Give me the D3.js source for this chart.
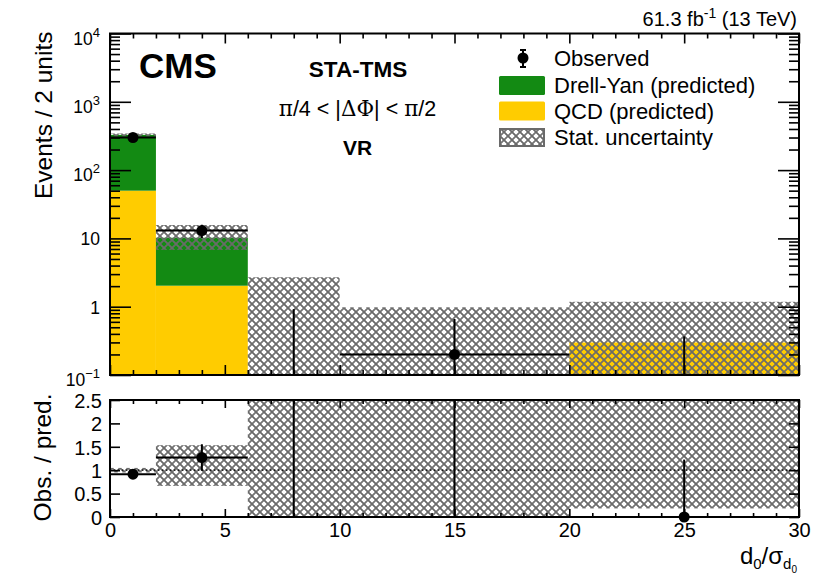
<!DOCTYPE html>
<html>
<head>
<meta charset="utf-8">
<script src="https://cdn.jsdelivr.net/npm/d3@7"></script>
<style>
  html, body { margin: 0; padding: 0; background: #fff; }
  svg { display: block; font-family: "Liberation Sans", Arial, Helvetica, sans-serif; }
</style>
</head>
<body>
<svg id="chart" width="820" height="576"></svg>
<script>
// Binning in d0/sigma(d0) and per-bin contents (events / 2 units)
const binEdges   = [0, 2, 6, 10, 20, 30];
const qcdPred    = [50, 2.03, 0, 0, 0.3];
const dyPred     = [278, 8.2, 0, 0, 0];
const statLow    = [312, 6.8, 0.05, 0.05, 0.055];
const statHigh   = [344, 15.7, 2.7, 0.98, 1.18];
const observed   = [300, 13, 0, 0.2, 0];
const obsErrDown = [17, 2.9, 0, 0.165, 0];
const obsErrUp   = [17, 2.9, 0.92, 0.46, 0.368];

// Axis ticks and labels
const logMajorTicks  = [0.1, 1, 10, 100, 1000, 10000];
const logTickLabels  = [["10", "\u22121"], ["1", ""], ["10", ""], ["10", "2"], ["10", "3"], ["10", "4"]];
const xMajorTicks    = [0, 5, 10, 15, 20, 25, 30];
const ratioTicks     = [0, 0.5, 1, 1.5, 2, 2.5];

const legendLabels = ["Observed", "Drell-Yan (predicted)", "QCD (predicted)", "Stat. uncertainty"];

const GREEN = "#138a13", YELLOW = "#ffcc00", HATCH = "#6a6a6a";
const FONT = "Liberation Sans, Arial, sans-serif";

const bins = binEdges.slice(0, -1).map((lo, i) => ({
  lo, hi: binEdges[i + 1], mid: (lo + binEdges[i + 1]) / 2,
  qcd: qcdPred[i], dy: dyPred[i], pred: qcdPred[i] + dyPred[i],
  sLo: statLow[i], sHi: statHigh[i],
  obs: observed[i], eDn: obsErrDown[i], eUp: obsErrUp[i]
}));

const svg = d3.select("#chart");
const L = 110, R = 799;
const mainTop = 33.5, mainBot = 375;
const ratTop = 400, ratBot = 517;

const x  = d3.scaleLinear().domain([0, 30]).range([L, R]);
const y  = d3.scaleLog().domain([0.1, 1e4]).range([mainBot, mainTop]);
const yr = d3.scaleLinear().domain([0, 2.5]).range([ratBot, ratTop]);

// cross-hatch fill for the statistical uncertainty band
const defs = svg.append("defs");
const T = 8 / Math.SQRT2;
const pat = defs.append("pattern").attr("id", "hatch")
  .attr("patternUnits", "userSpaceOnUse").attr("width", T).attr("height", T)
  .attr("patternTransform", "rotate(45)");
pat.append("path").attr("d", `M0,${T / 2}H${T}M${T / 2},0V${T}`)
  .attr("stroke", HATCH).attr("stroke-width", 1.75).attr("fill", "none");
defs.append("clipPath").attr("id", "clipMain").append("rect")
  .attr("x", L).attr("y", mainTop).attr("width", R - L).attr("height", mainBot - mainTop);
defs.append("clipPath").attr("id", "clipRatio").append("rect")
  .attr("x", L).attr("y", ratTop).attr("width", R - L).attr("height", ratBot - ratTop);

// ---------- main panel ----------
const gm = svg.append("g").attr("clip-path", "url(#clipMain)");
const yMin = 0.1;

gm.selectAll("rect.qcd").data(bins.filter(b => b.qcd > 0)).join("rect")
  .attr("x", b => x(b.lo)).attr("width", b => x(b.hi) - x(b.lo))
  .attr("y", b => y(b.qcd)).attr("height", b => y(yMin) - y(b.qcd))
  .attr("fill", YELLOW);

gm.selectAll("rect.dy").data(bins.filter(b => b.dy > 0)).join("rect")
  .attr("x", b => x(b.lo)).attr("width", b => x(b.hi) - x(b.lo))
  .attr("y", b => y(b.pred)).attr("height", b => y(Math.max(b.qcd, yMin)) - y(b.pred))
  .attr("fill", GREEN);

gm.selectAll("rect.stat").data(bins).join("rect")
  .attr("x", b => x(b.lo)).attr("width", b => x(b.hi) - x(b.lo))
  .attr("y", b => y(b.sHi)).attr("height", b => y(Math.max(b.sLo, 0.05)) - y(b.sHi))
  .attr("fill", "url(#hatch)");

// observed: error bars and markers
gm.selectAll("line.xerr").data(bins.filter(b => b.obs > 0)).join("line")
  .attr("x1", b => x(b.lo)).attr("x2", b => x(b.hi))
  .attr("y1", b => y(b.obs)).attr("y2", b => y(b.obs))
  .attr("stroke", "#000").attr("stroke-width", 2);
gm.selectAll("line.yerr").data(bins).join("line")
  .attr("x1", b => x(b.mid)).attr("x2", b => x(b.mid))
  .attr("y1", b => y(Math.max(b.obs - b.eDn, 0.05)))
  .attr("y2", b => y(b.obs + b.eUp))
  .attr("stroke", "#000").attr("stroke-width", 2);
gm.selectAll("circle.obs").data(bins.filter(b => b.obs > 0)).join("circle")
  .attr("cx", b => x(b.mid)).attr("cy", b => y(b.obs)).attr("r", 5.5).attr("fill", "#000");

// ---------- ratio panel ----------
const gr = svg.append("g").attr("clip-path", "url(#clipRatio)");
gr.selectAll("rect.rstat").data(bins).join("rect")
  .attr("x", b => x(b.lo)).attr("width", b => x(b.hi) - x(b.lo))
  .attr("y", b => yr(b.pred > 0 ? b.sHi / b.pred : 10))
  .attr("height", b => b.pred > 0
      ? yr(b.sLo / b.pred) - yr(b.sHi / b.pred)
      : yr(-1) - yr(10))
  .attr("fill", "url(#hatch)");

gr.append("line")
  .attr("x1", x(0)).attr("x2", x(30)).attr("y1", yr(1)).attr("y2", yr(1))
  .attr("stroke", "#000").attr("stroke-width", 1.2).attr("stroke-dasharray", "1.5,2.5");

const withPred = bins.filter(b => b.pred > 0);
gr.selectAll("line.rxerr").data(withPred).join("line")
  .attr("x1", b => x(b.lo)).attr("x2", b => x(b.hi))
  .attr("y1", b => yr(b.obs / b.pred)).attr("y2", b => yr(b.obs / b.pred))
  .attr("stroke", "#000").attr("stroke-width", 2);
gr.selectAll("line.ryerr").data(bins).join("line")
  .attr("x1", b => x(b.mid)).attr("x2", b => x(b.mid))
  .attr("y1", b => b.pred > 0 ? yr((b.obs - b.eDn) / b.pred) : yr(-1))
  .attr("y2", b => b.pred > 0 ? yr((b.obs + b.eUp) / b.pred) : yr(10))
  .attr("stroke", "#000").attr("stroke-width", 2);
svg.append("g").selectAll("circle").data(withPred).join("circle")
  .attr("cx", b => x(b.mid)).attr("cy", b => yr(b.obs / b.pred)).attr("r", 5.5).attr("fill", "#000");

// ---------- axes ----------
function logMinor() {
  const v = [];
  for (let e = -1; e < 4; e++) for (let k = 2; k <= 9; k++) v.push(k * Math.pow(10, e));
  return v;
}
function xMinor() { return d3.range(0, 31, 1).filter(d => d % 5 !== 0); }
const clean = g => g.select(".domain").remove();
const tickStyle = g => g.selectAll("line").attr("stroke", "#000").attr("stroke-width", 1.6);

// main panel y
svg.append("g").attr("transform", `translate(${L},0)`)
  .call(d3.axisLeft(y).tickValues(logMinor()).tickSize(-10).tickFormat(""))
  .call(clean).call(tickStyle);
svg.append("g").attr("transform", `translate(${R},0)`)
  .call(d3.axisRight(y).tickValues(logMinor()).tickSize(-10).tickFormat(""))
  .call(clean).call(tickStyle);
svg.append("g").attr("transform", `translate(${R},0)`)
  .call(d3.axisRight(y).tickValues(logMajorTicks).tickSize(-21).tickFormat(""))
  .call(clean).call(tickStyle);
const yAxisMain = svg.append("g").attr("transform", `translate(${L},0)`)
  .call(d3.axisLeft(y).tickValues(logMajorTicks).tickSizeInner(-21).tickSizeOuter(0).tickPadding(10).tickFormat(""))
  .call(clean).call(tickStyle);
yAxisMain.selectAll(".tick text").each(function(d, i) {
  const [base, exp] = logTickLabels[i];
  const t = d3.select(this).text(null)
    .attr("font-size", 17.5).attr("fill", "#000").attr("font-family", FONT)
    .attr("dy", exp ? "0.6em" : "0.36em");
  t.append("tspan").text(base);
  if (exp) t.append("tspan").attr("dy", "-0.6em").attr("font-size", 13).text(exp);
});

// main panel x (top and bottom, no labels)
[[mainBot, d3.axisBottom], [mainTop, d3.axisTop]].forEach(([yy, ax]) => {
  svg.append("g").attr("transform", `translate(0,${yy})`)
    .call(ax(x).tickValues(xMinor()).tickSize(-5).tickFormat("")).call(clean).call(tickStyle);
  svg.append("g").attr("transform", `translate(0,${yy})`)
    .call(ax(x).tickValues(xMajorTicks).tickSize(-10).tickFormat("")).call(clean).call(tickStyle);
});

// ratio panel x
svg.append("g").attr("transform", `translate(0,${ratTop})`)
  .call(d3.axisTop(x).tickValues(xMinor()).tickSize(-4).tickFormat("")).call(clean).call(tickStyle);
svg.append("g").attr("transform", `translate(0,${ratTop})`)
  .call(d3.axisTop(x).tickValues(xMajorTicks).tickSize(-8).tickFormat("")).call(clean).call(tickStyle);
svg.append("g").attr("transform", `translate(0,${ratBot})`)
  .call(d3.axisBottom(x).tickValues(xMinor()).tickSize(-4).tickFormat("")).call(clean).call(tickStyle);
svg.append("g").attr("transform", `translate(0,${ratBot})`)
  .call(d3.axisBottom(x).tickValues(xMajorTicks).tickSizeInner(-8).tickSizeOuter(0).tickPadding(6).tickFormat(d3.format("d")))
  .call(clean).call(tickStyle)
  .call(g => g.selectAll("text").attr("font-size", 20).attr("fill", "#000").attr("font-family", FONT));

// ratio panel y
svg.append("g").attr("transform", `translate(${L},0)`)
  .call(d3.axisLeft(yr).tickValues(ratioTicks).tickSizeInner(-10).tickSizeOuter(0).tickPadding(8)
    .tickFormat(d => d3.format("~g")(d)))
  .call(clean).call(tickStyle)
  .call(g => g.selectAll("text").attr("font-size", 20).attr("fill", "#000").attr("dy", "0.36em")
    .attr("font-family", FONT));
svg.append("g").attr("transform", `translate(${R},0)`)
  .call(d3.axisRight(yr).tickValues(ratioTicks).tickSize(-10).tickFormat(""))
  .call(clean).call(tickStyle);

// frames
[[mainTop, mainBot], [ratTop, ratBot]].forEach(([t, b]) => {
  svg.append("rect").attr("x", L).attr("y", t).attr("width", R - L).attr("height", b - t)
    .attr("fill", "none").attr("stroke", "#000").attr("stroke-width", 2);
});

// ---------- titles and annotations ----------
svg.append("text").attr("transform", `translate(52,${mainTop - 2}) rotate(-90)`)
  .attr("text-anchor", "end").attr("font-size", 24.5).text("Events / 2 units");
svg.append("text").attr("transform", `translate(51,${(ratTop + ratBot) / 2 - 1}) rotate(-90)`)
  .attr("text-anchor", "middle").attr("font-size", 24.5).text("Obs. / pred.");

const xt = svg.append("text").attr("x", 797).attr("y", 564).attr("text-anchor", "end").attr("font-size", 24);
xt.append("tspan").text("d");
xt.append("tspan").attr("dy", 5).attr("font-size", 15).text("0");
xt.append("tspan").attr("dy", -5).text("/\u03c3");
xt.append("tspan").attr("dy", 5).attr("font-size", 15).text("d");
xt.append("tspan").attr("dy", 4).attr("font-size", 10).text("0");

const lumi = svg.append("text").attr("x", 797).attr("y", 26).attr("text-anchor", "end").attr("font-size", 20);
lumi.append("tspan").text("61.3 fb");
lumi.append("tspan").attr("dy", -8).attr("font-size", 14).text("-1");
lumi.append("tspan").attr("dy", 8).text(" (13 TeV)");

svg.append("text").attr("x", 139).attr("y", 78).attr("font-size", 35).attr("font-weight", "bold").text("CMS");
svg.append("text").attr("x", 358).attr("y", 77).attr("text-anchor", "middle")
  .attr("font-size", 22.5).attr("font-weight", "bold").text("STA-TMS");
const dphi = svg.append("text").attr("x", 357.5).attr("y", 116).attr("text-anchor", "middle").attr("font-size", 21.5);
const SERIF = "DejaVu Serif, Liberation Serif, serif";
dphi.append("tspan").attr("font-family", SERIF).text("\u03c0");
dphi.append("tspan").text("/4 < |");
dphi.append("tspan").attr("font-family", SERIF).text("\u0394\u03a6");
dphi.append("tspan").text("| < ");
dphi.append("tspan").attr("font-family", SERIF).text("\u03c0");
dphi.append("tspan").text("/2");
svg.append("text").attr("x", 357.5).attr("y", 155).attr("text-anchor", "middle")
  .attr("font-size", 21).attr("font-weight", "bold").text("VR");

// ---------- legend ----------
const legRows = [58, 85.5, 111, 137.5];
const lg = svg.append("g");
lg.append("line").attr("x1", 523).attr("x2", 523).attr("y1", legRows[0] - 8).attr("y2", legRows[0] + 9)
  .attr("stroke", "#000").attr("stroke-width", 2);
lg.append("line").attr("x1", 520).attr("x2", 526).attr("y1", legRows[0] + 9).attr("y2", legRows[0] + 9)
  .attr("stroke", "#000").attr("stroke-width", 2);
lg.append("line").attr("x1", 520).attr("x2", 526).attr("y1", legRows[0] - 8).attr("y2", legRows[0] - 8)
  .attr("stroke", "#000").attr("stroke-width", 2);
lg.append("circle").attr("cx", 523).attr("cy", legRows[0]).attr("r", 5.5).attr("fill", "#000");
lg.append("rect").attr("x", 499).attr("y", legRows[1] - 9.5).attr("width", 46).attr("height", 19)
  .attr("rx", 1.5).attr("fill", GREEN);
lg.append("rect").attr("x", 499).attr("y", legRows[2] - 9.5).attr("width", 46).attr("height", 19)
  .attr("rx", 1.5).attr("fill", YELLOW);
lg.append("rect").attr("x", 500).attr("y", legRows[3] - 8.5).attr("width", 44).attr("height", 17)
  .attr("fill", "url(#hatch)").attr("stroke", HATCH).attr("stroke-width", 2);
lg.selectAll("text").data(legendLabels).join("text")
  .attr("x", 554).attr("y", (d, i) => legRows[i] + 7.5).attr("font-size", 22).text(d => d);
</script>
</body>
</html>
